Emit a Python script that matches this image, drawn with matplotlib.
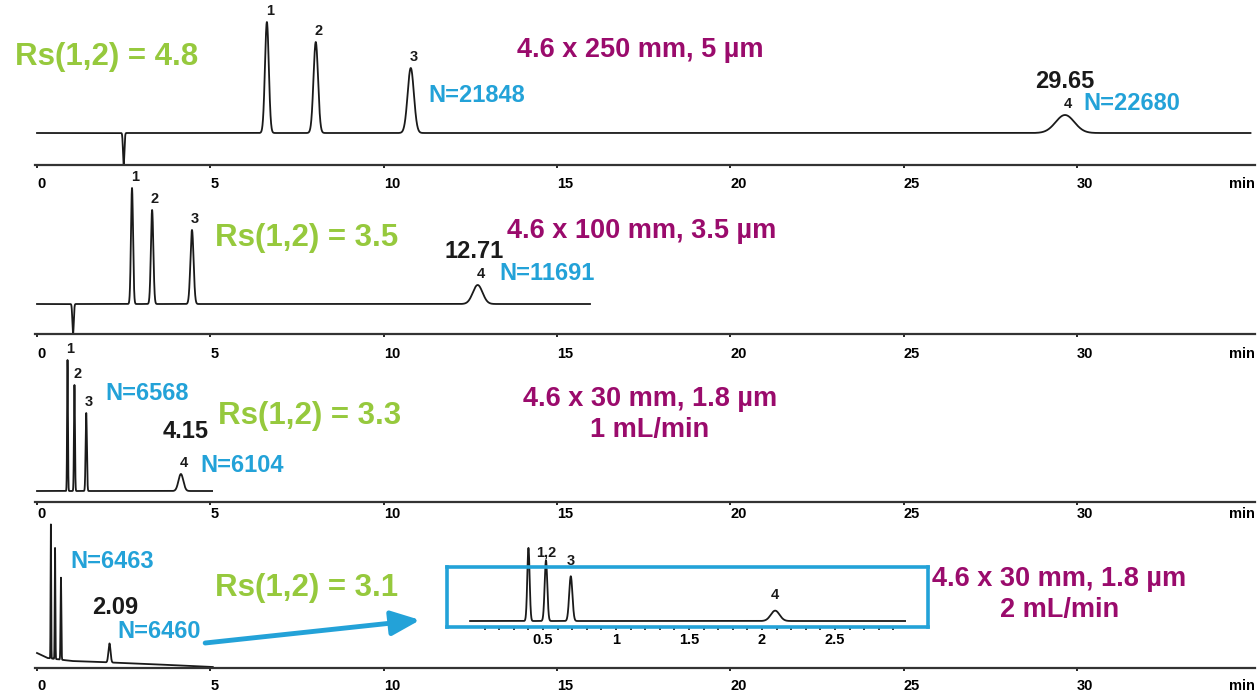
"""Column scaling comparison: four chromatograms of the same 4-peak mix."""
import numpy as np
import matplotlib
matplotlib.use("Agg")
import matplotlib.pyplot as plt  # noqa: E402

plt.rcParams["font.family"] = ["Liberation Sans", "DejaVu Sans"]

GREEN = "#96c93d"
PURPLE = "#9a0b6c"
BLUE = "#23a2d8"
INK = "#1a1a1a"

# one entry per chromatogram, top to bottom
COLUMNS = ["4.6 x 250 mm, 5 µm", "4.6 x 100 mm, 3.5 µm",
           "4.6 x 30 mm, 1.8 µm\n1 mL/min", "4.6 x 30 mm, 1.8 µm\n2 mL/min"]
RS = [4.8, 3.5, 3.3, 3.1]
# retention times (min), peak heights and peak sigmas (min) for peaks 1-4
RT = [[6.63, 8.04, 10.78, 29.65],
      [2.74, 3.32, 4.47, 12.71],
      [0.88, 1.08, 1.42, 4.15],
      [0.40, 0.52, 0.69, 2.09]]
HEIGHT = [[111, 91, 65, 18],
          [116, 94, 74, 19],
          [131, 106, 78, 17],
          [134, 111, 82, 19]]
SIGMA = [[0.055, 0.065, 0.09, 0.27],
         [0.03, 0.035, 0.045, 0.14],
         [0.012, 0.014, 0.018, 0.07],
         [0.008, 0.009, 0.011, 0.03]]
PLATES = [[21848, 22680], [11691], [6568, 6104], [6463, 6460]]
RUN_END = [35.0, 15.95, 5.05, 5.07]
BASELINE = [32, 30, 11, 0]
# injection disturbance (time, depth) on the two longer columns
DIP_T = [2.50, 1.04, None, None]
DIP_DEPTH = [32, 30, 0, 0]
# baseline drift of the 2 mL/min run
DRIFT_T = [0, 0.3, 1.0, 2.5, 4.5, 5.07]
DRIFT_Y = [15, 10, 7, 5, 2, 1]

TICKS = [0, 5, 10, 15, 20, 25, 30]
INSET_TICKS = [0.5, 1, 1.5, 2, 2.5]

W, H = 1260, 691


def _trace(i, t):
    y = np.full_like(t, float(BASELINE[i]))
    if i == 3:
        y = np.interp(t, DRIFT_T, DRIFT_Y)
    for rt, h, s in zip(RT[i], HEIGHT[i], SIGMA[i]):
        y += h * np.exp(-0.5 * ((t - rt) / s) ** 2)
    if DIP_T[i] is not None:
        y -= DIP_DEPTH[i] * np.exp(-0.5 * ((t - DIP_T[i]) / 0.02) ** 2)
    return y


def _rect(top, bottom, left=35, right=1255):
    return [left / W, 1 - bottom / H, (right - left) / W, (bottom - top) / H]


fig = plt.figure(figsize=(W / 100, H / 100), dpi=100)

panels = [(5, 165, 6.5), (175, 334, 7.0), (345, 502, 1.5), (512, 668, 6.0)]
# text anchors in each panel's data coords
rs_pos = [(-0.63, 108), (5.13, 96), (5.22, 86), (5.13, 80)]
col_pos = [(13.84, 115, "left"), (13.56, 103, "left"),
           (17.68, 88, "center"), (29.48, 73, "center")]
rt_pos = [(29.65, 83), (12.6, 82), (4.30, 70), (2.25, 60)]
n_pos = [[(11.28, 70), (30.17, 61)], [(13.35, 60)],
         [(1.96, 109), (4.70, 37)], [(0.95, 106), (2.31, 36)]]

for i, (top, bottom, pad) in enumerate(panels):
    ax = fig.add_axes(_rect(top, bottom))
    ax.patch.set_visible(False)
    t = np.linspace(0, RUN_END[i], 20000)
    ax.plot(t, _trace(i, t), color=INK, lw=1.3, clip_on=False)
    ax.set_xlim(-0.058, 35.13)
    ax.set_ylim(0, bottom - top)
    for s in ("top", "left", "right"):
        ax.spines[s].set_visible(False)
    ax.spines["bottom"].set_linewidth(1.6)
    ax.spines["bottom"].set_color("#333333")
    ax.set_yticks([])
    ax.set_xticks(TICKS)
    ax.set_xticklabels([str(v) for v in TICKS], ha="left")
    ax.tick_params(axis="x", length=2.2, width=1.2, pad=pad, labelsize=10.5)
    for lab in ax.get_xticklabels():
        lab.set_fontweight("bold")
    ax.annotate("min", xy=(1, 0), xycoords="axes fraction", xytext=(0, -(2.2 + pad)),
                textcoords="offset points", ha="right", va="top",
                fontsize=10.5, fontweight="bold")

    if i < 3:
        base = BASELINE[i]
        for k, (rt, h) in enumerate(zip(RT[i], HEIGHT[i])):
            ax.annotate(str(k + 1), xy=(rt, base + h), xytext=(2, 3),
                        textcoords="offset points", ha="center", va="bottom",
                        fontsize=10.5, fontweight="bold", color=INK)

    x, y = rs_pos[i]
    ax.text(x, y, f"Rs(1,2) = {RS[i]}", color=GREEN, fontsize=22.5,
            fontweight="bold", ha="left", va="center")
    x, y, ha = col_pos[i]
    ax.text(x, y, COLUMNS[i], color=PURPLE, fontsize=19.5, fontweight="bold",
            ha=ha, va="center", multialignment="center", linespacing=1.25)
    x, y = rt_pos[i]
    ax.text(x, y, f"{RT[i][3]:.2f}", color=INK, fontsize=17, fontweight="bold",
            ha="center", va="center")
    for (x, y), n in zip(n_pos[i], PLATES[i]):
        ax.text(x, y, f"N={n}", color=BLUE, fontsize=17, fontweight="bold",
                ha="left", va="center")

    if i == 3:
        ax.annotate("", xy=(11.05, 48), xytext=(4.85, 25),
                    arrowprops=dict(arrowstyle="-|>,head_length=0.7,head_width=0.3",
                                    mutation_scale=25, lw=3.5, color=BLUE,
                                    shrinkA=0, shrinkB=0))

# zoomed view of the 2 mL/min run
ax_in = fig.add_axes(_rect(567, 627, 447, 928))
ax_in.patch.set_visible(False)
t = np.linspace(0, 2.98, 8000)
y = np.zeros_like(t)
for rt, h, s in zip(RT[3], HEIGHT[3], SIGMA[3]):
    y += h * np.exp(-0.5 * ((t - rt) / s) ** 2)
ax_in.plot(t, y, color=INK, lw=1.3, clip_on=False)
ax_in.set_xlim(-0.158, 3.137)
ax_in.set_ylim(-11, 99)
for s in ax_in.spines.values():
    s.set_color(BLUE)
    s.set_linewidth(2.6)
ax_in.set_yticks([])
ax_in.set_xticks(INSET_TICKS)
ax_in.set_xticklabels([f"{v:g}" for v in INSET_TICKS])
ax_in.set_xticks(np.arange(0.1, 3.0, 0.1), minor=True)
ax_in.tick_params(axis="x", which="both", length=2, width=1.2, color=INK,
                  pad=2, labelsize=10.5)
for lab in ax_in.get_xticklabels():
    lab.set_fontweight("bold")
for k, (rt, h) in enumerate(zip(RT[3], HEIGHT[3])):
    if k == 0:
        continue
    text = "1,2" if k == 1 else str(k + 1)
    ax_in.annotate(text, xy=(rt, h), xytext=(0, 6 if k > 1 else 1),
                   textcoords="offset points", ha="center", va="bottom",
                   fontsize=10.5, fontweight="bold", color=INK, annotation_clip=False)

fig.savefig("out.png", dpi=100)
plt.close(fig)
